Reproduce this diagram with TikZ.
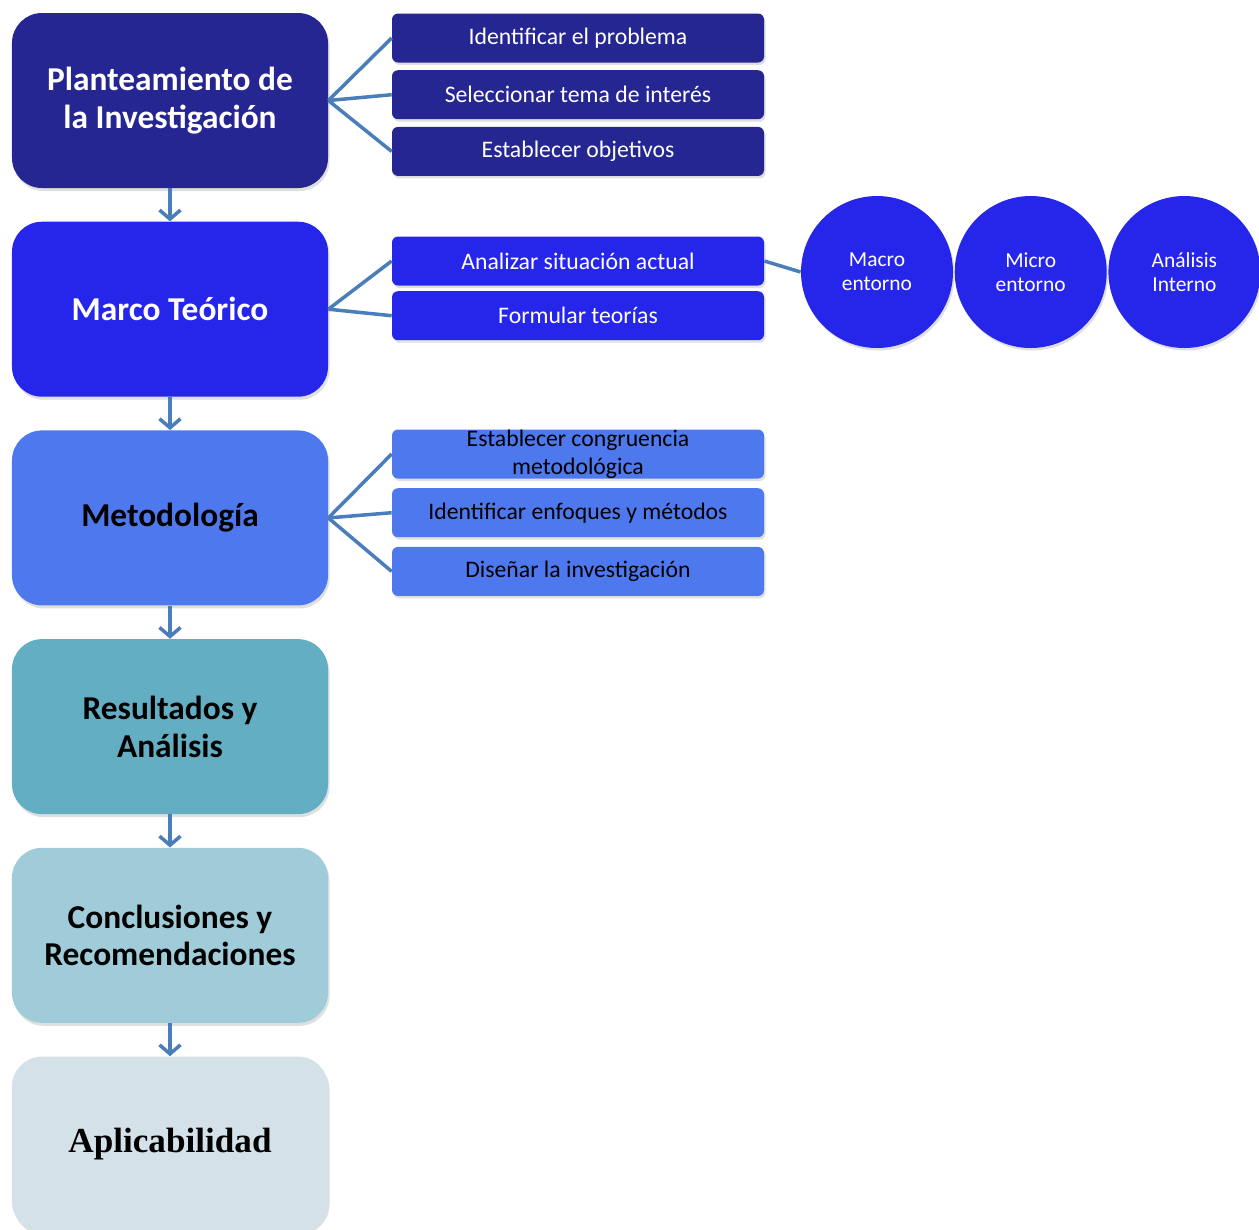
\documentclass[tikz,border=0pt]{standalone}
\usepackage{fontspec}
\setmainfont{Carlito}
\newfontfamily\aplfont{Liberation Serif}
\usetikzlibrary{arrows.meta, positioning, shadows, calc}

\definecolor{navy}{RGB}{38,38,146}
\definecolor{royal}{RGB}{38,38,234}
\definecolor{cornflower}{RGB}{78,121,238}
\definecolor{teal}{RGB}{99,174,194}
\definecolor{paleteal}{RGB}{160,204,217}
\definecolor{mist}{RGB}{212,225,232}
\definecolor{linkblue}{RGB}{74,126,187}

\begin{document}
\begin{tikzpicture}[
    stage/.style={rounded corners=0.6cm, minimum width=6.32cm, minimum height=3.5cm,
        align=center, font=\fontsize{19}{21.5}\selectfont\bfseries,
        drop shadow={opacity=0.25, shadow xshift=0.03cm, shadow yshift=-0.06cm}},
    task/.style={rounded corners=0.12cm, minimum width=7.44cm, minimum height=0.98cm,
        align=center, font=\fontsize{13.5}{15.9}\selectfont,
        drop shadow={opacity=0.25, shadow xshift=0.03cm, shadow yshift=-0.05cm}},
    env/.style={circle, minimum size=3.04cm, fill=royal, text=white, align=center,
        font=\fontsize{12.2}{13.6}\selectfont,
        drop shadow={opacity=0.25, shadow xshift=0.03cm, shadow yshift=-0.05cm}},
    link/.style={draw=linkblue, line width=2pt},
    flow/.style={link, -{Straight Barb[length=0.18cm, width=0.42cm, line width=2pt]}},
    node distance=0.66cm
]
    \useasboundingbox (0,0) rectangle (25.18,-24.58);

    % etapas principales
    \node[stage, fill=navy, text=white] (plan) at (3.4,-2.01) {Planteamiento de\\la Investigación};
    \node[stage, fill=royal, text=white, below=of plan] (marco) {Marco Teórico};
    \node[stage, fill=cornflower, below=of marco] (metodo) {Metodología};
    \node[stage, fill=teal, below=of metodo] (result) {Resultados y\\Análisis};
    \node[stage, fill=paleteal, below=of result] (concl) {Conclusiones y\\Recomendaciones};
    \node[stage, fill=mist, below=of concl, font=\aplfont\fontsize{20}{22}\selectfont\bfseries] (apli) {Aplicabilidad};

    \draw[flow] (plan) -- (marco);
    \draw[flow] (marco) -- (metodo);
    \draw[flow] (metodo) -- (result);
    \draw[flow] (result) -- (concl);
    \draw[flow] (concl) -- (apli);

    % tareas del planteamiento
    \node[task, fill=navy, text=white] (p1) at (11.56,-0.76) {Identificar el problema};
    \node[task, fill=navy, text=white, below=0.14cm of p1] (p2) {Seleccionar tema de interés};
    \node[task, fill=navy, text=white, below=0.14cm of p2] (p3) {Establecer objetivos};
    \foreach \t in {p1,p2,p3}
        \draw[link] (plan.east) -- (\t.west);

    % tareas del marco teorico
    \node[task, fill=royal, text=white] (m1) at (11.56,-5.22) {Analizar situación actual};
    \node[task, fill=royal, text=white, below=0.1cm of m1] (m2) {Formular teorías};
    \foreach \t in {m1,m2}
        \draw[link] (marco.east) -- (\t.west);

    \node[env] (macro) at (17.54,-5.44) {Macro\\entorno};
    \node[env, right=0.02cm of macro] (micro) {Micro\\entorno};
    \node[env, right=0.02cm of micro] (interno) {Análisis\\Interno};
    \draw[link] (m1.east) -- (macro.west);

    % tareas de metodologia
    \node[task, fill=cornflower, inner ysep=-2pt] (d1) at (11.56,-9.08) {Establecer congruencia\\metodológica};
    \node[task, fill=cornflower, below=0.18cm of d1] (d2) {Identificar enfoques y métodos};
    \node[task, fill=cornflower, below=0.18cm of d2] (d3) {Diseñar la investigación};
    \foreach \t in {d1,d2,d3}
        \draw[link] (metodo.east) -- (\t.west);
\end{tikzpicture}
\end{document}
